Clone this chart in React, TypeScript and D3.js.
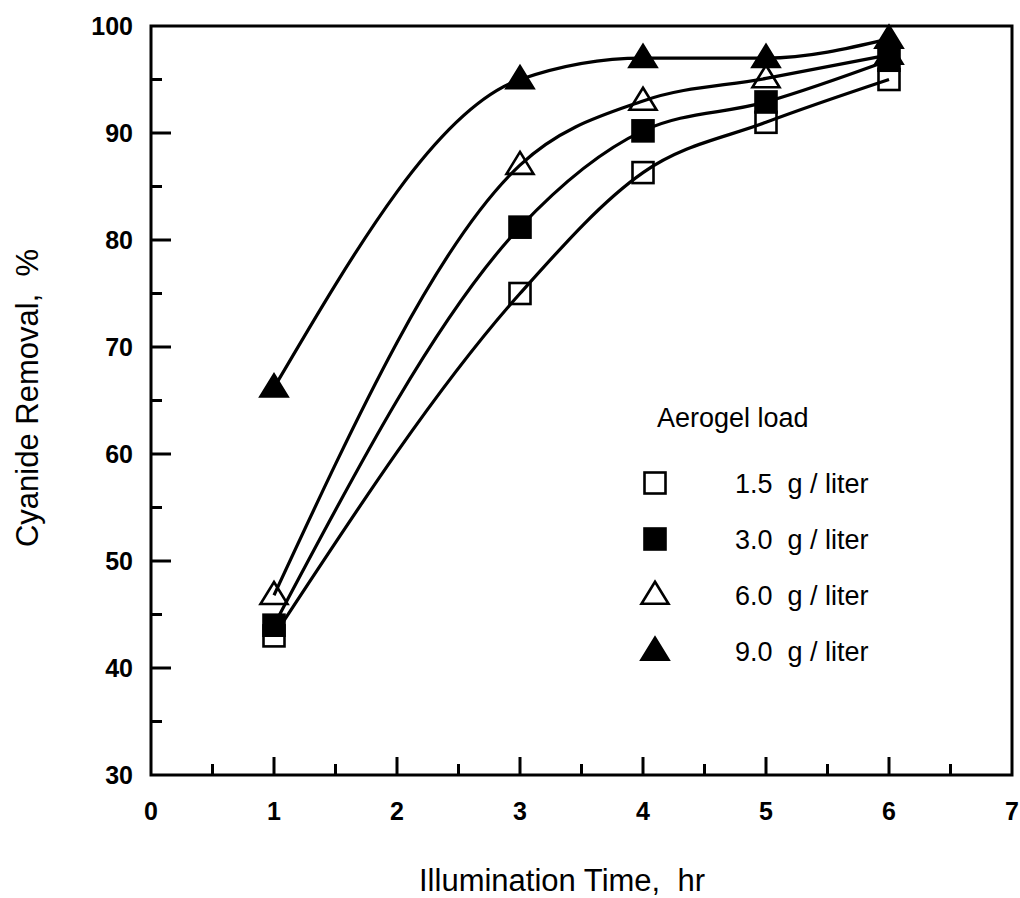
import React from 'react'
import * as d3 from 'd3'

// illumination time, hr
const hours = [1, 3, 4, 5, 6]

// cyanide removal %, one list per aerogel load
const load15 = [43, 75, 86.3, 91, 95]
const load30 = [44, 81.2, 90.2, 92.9, 96.8]
const load60 = [46.8, 87, 93, 95.1, 97.3]
const load90 = [66.2, 95, 97, 97, 98.8]

const loadLabels = ['1.5  g / liter', '3.0  g / liter', '6.0  g / liter', '9.0  g / liter']
const xTicks = [0, 1, 2, 3, 4, 5, 6, 7]
const yTicks = [30, 40, 50, 60, 70, 80, 90, 100]

const W = 1020
const H = 898
const font = '"Liberation Sans", Arial, sans-serif'

type Shape = 'openSquare' | 'square' | 'openTriangle' | 'triangle'
const shapes: Shape[] = ['openSquare', 'square', 'openTriangle', 'triangle']

function Marker({ shape, cx, cy }: { shape: Shape; cx: number; cy: number }) {
  const filled = shape === 'square' || shape === 'triangle'
  const fill = filled ? '#000' : 'none'
  if (shape === 'openSquare' || shape === 'square') {
    const s = 21
    return (
      <rect x={cx - s / 2} y={cy - s / 2} width={s} height={s}
        fill={fill} stroke="#000" strokeWidth={2.6} />
    )
  }
  const w = 27
  const h = 22
  const pts = [[cx, cy - h * 0.6], [cx + w / 2, cy + h * 0.4], [cx - w / 2, cy + h * 0.4]]
  return <polygon points={pts.map(p => p.join(',')).join(' ')} fill={fill}
    stroke="#000" strokeWidth={2.6} strokeLinejoin="miter" />
}

export default function App() {
  const x = d3.scaleLinear().domain([0, 7]).range([151, 1012])
  const y = d3.scaleLinear().domain([30, 100]).range([775, 26])

  const series = [load15, load30, load60, load90]
  const line = d3.line<number>()
    .x((_, i) => x(hours[i]))
    .y(d => y(d))
    .curve(d3.curveMonotoneX)

  const xMinor = d3.range(0.5, 7, 1)
  const yMinor = d3.range(35, 100, 10)

  return (
    <div style={{ position: 'absolute', left: 0, top: 0 }}>
      <svg width={W} height={H} style={{ display: 'block', background: '#fff' }}>
        {/* curves */}
        {series.map((vals, k) => (
          <path key={k} d={line(vals) || ''} fill="none" stroke="#000" strokeWidth={3.2} />
        ))}

        {/* markers */}
        {series.map((vals, k) =>
          vals.map((v, i) => (
            <Marker key={k + '-' + i} shape={shapes[k]} cx={x(hours[i])} cy={y(v)} />
          ))
        )}

        {/* frame */}
        <rect x={x(0)} y={y(100)} width={x(7) - x(0)} height={y(30) - y(100)}
          fill="none" stroke="#000" strokeWidth={3} />

        {/* x ticks */}
        {xTicks.slice(1, -1).map(t => (
          <line key={'xt' + t} x1={x(t)} x2={x(t)} y1={y(30)} y2={y(30) - 18}
            stroke="#000" strokeWidth={3} />
        ))}
        {xMinor.map(t => (
          <line key={'xm' + t} x1={x(t)} x2={x(t)} y1={y(30)} y2={y(30) - 11}
            stroke="#000" strokeWidth={3} />
        ))}
        {xTicks.map(t => (
          <text key={'xl' + t} x={x(t)} y={820} textAnchor="middle"
            fontFamily={font} fontSize={25} fontWeight="bold">{t}</text>
        ))}

        {/* y ticks */}
        {yTicks.slice(1, -1).map(t => (
          <line key={'yt' + t} x1={x(0)} x2={x(0) + 20} y1={y(t)} y2={y(t)}
            stroke="#000" strokeWidth={3} />
        ))}
        {yMinor.map(t => (
          <line key={'ym' + t} x1={x(0)} x2={x(0) + 11} y1={y(t)} y2={y(t)}
            stroke="#000" strokeWidth={3} />
        ))}
        {yTicks.map(t => (
          <text key={'yl' + t} x={133} y={y(t) + 9} textAnchor="end"
            fontFamily={font} fontSize={25} fontWeight="bold">{t}</text>
        ))}

        {/* axis titles */}
        <text x={562} y={891} textAnchor="middle" fontFamily={font} fontSize={31}
          style={{ whiteSpace: 'pre' }}>{'Illumination Time,  hr'}</text>
        <text transform={`translate(38, 398) rotate(-90)`} textAnchor="middle"
          fontFamily={font} fontSize={31} style={{ whiteSpace: 'pre' }}>
          {'Cyanide Removal,  %'}
        </text>

        {/* legend */}
        <text x={657} y={427} fontFamily={font} fontSize={27}>Aerogel load</text>
        {loadLabels.map((lab, k) => {
          const cy = 483 + k * 56
          return (
            <g key={'lg' + k}>
              <Marker shape={shapes[k]} cx={655} cy={cy} />
              <text x={735} y={cy + 10} fontFamily={font} fontSize={27}
                style={{ whiteSpace: 'pre' }}>{lab}</text>
            </g>
          )
        })}
      </svg>
    </div>
  )
}
